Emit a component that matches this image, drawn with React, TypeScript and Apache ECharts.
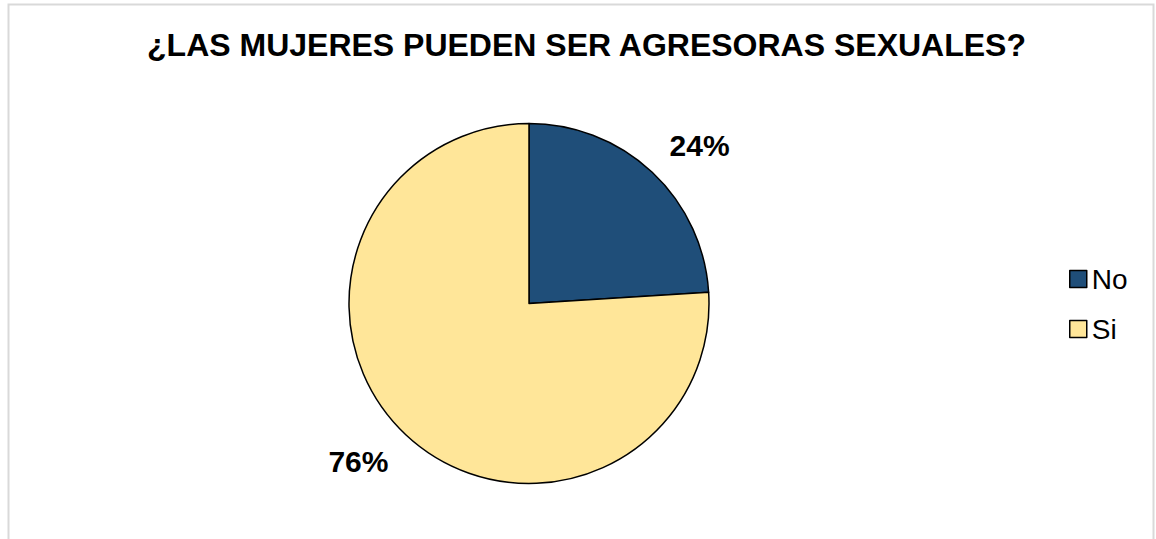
import React, { useEffect, useRef } from "react";
import * as echarts from "echarts";

const titleText = "¿LAS MUJERES PUEDEN SER AGRESORAS SEXUALES?";
const categories = ["No", "Si"];
const values = [24, 76];
const colors = ["#1f4e79", "#ffe699"];

export default function App() {
  const ref = useRef<HTMLDivElement>(null);
  useEffect(() => {
    if (!ref.current) return;
    const chart = echarts.init(ref.current, null, { renderer: "svg" });
    const font = "'Liberation Sans', Arial, sans-serif";
    chart.setOption({
      animation: false,
      backgroundColor: "#ffffff",
      title: {
        text: titleText,
        left: 581.5,
        textAlign: "center",
        top: 24,
        textStyle: { fontFamily: font, fontSize: 32, fontWeight: "bold", color: "#000" },
      },
      legend: {
        orient: "vertical",
        left: 1064,
        top: 260,
        itemWidth: 17,
        itemHeight: 17,
        itemGap: 22,
        icon: "rect",
        itemStyle: { borderColor: "#000", borderWidth: 1.5 },
        textStyle: { fontFamily: font, fontSize: 28, color: "#000", lineHeight: 28 },
        data: categories,
      },
      graphic: [
        {
          type: "rect",
          shape: { x: 8.5, y: 4.5, width: 1145, height: 600 },
          style: { fill: "none", stroke: "#d9d9d9", lineWidth: 2 },
          silent: true,
        },
      ],
      series: [
        {
          type: "pie",
          center: [529, 303.5],
          radius: 180,
          startAngle: 90,
          clockwise: true,
          avoidLabelOverlap: false,
          itemStyle: { borderColor: "#000", borderWidth: 1.5 },
          label: {
            show: true,
            position: "outside",
            formatter: "{d}%",
            fontFamily: font,
            fontSize: 30,
            fontWeight: "bold",
            color: "#000",
            distanceToLabelLine: 0,
          },
          labelLine: { show: false, length: 37, length2: -8 },
          emphasis: { disabled: true },
          data: categories.map((c, i) => ({ name: c, value: values[i], itemStyle: { color: colors[i] } })),
        },
      ],
    });
    return () => chart.dispose();
  }, []);
  return (
    <div
      ref={ref}
      style={{ position: "fixed", left: 0, top: 0, width: 1156, height: 539 }}
    />
  );
}
